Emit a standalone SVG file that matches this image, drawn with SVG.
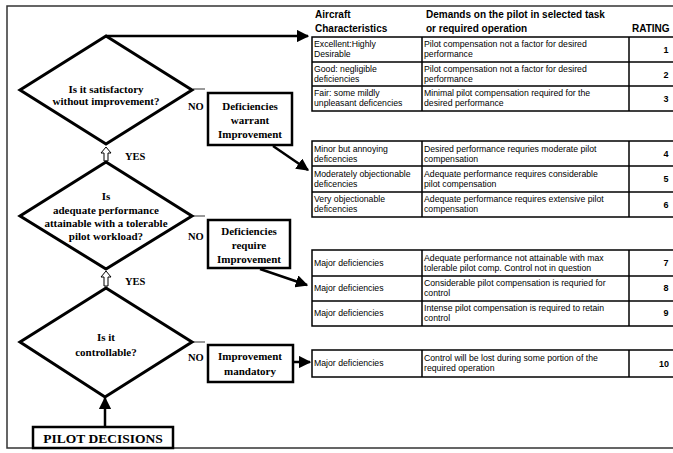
<svg xmlns="http://www.w3.org/2000/svg" width="673" height="453" viewBox="0 0 673 453">
<defs>
<style>
.frame{fill:none;stroke:#333;stroke-width:1.5}
.dia{fill:#fff;stroke:#000;stroke-width:3;stroke-linejoin:miter}
.box{fill:#fff;stroke:#000;stroke-width:2.5}
.ft{font-family:"Liberation Serif","Times New Roman",serif;font-weight:bold;font-size:11px;text-anchor:middle;fill:#000}
.lab{font-family:"Liberation Serif","Times New Roman",serif;font-weight:bold;font-size:10.5px;fill:#000}
.th{font-family:"Liberation Sans",Arial,sans-serif;font-weight:bold;font-size:10px;fill:#000}
.tt{font-family:"Liberation Sans",Arial,sans-serif;font-size:8.7px;fill:#000}
.rt{font-family:"Liberation Sans",Arial,sans-serif;font-weight:bold;font-size:9px;text-anchor:middle;fill:#000}
.cell{fill:none;stroke:#000;stroke-width:1.5}
.con{fill:none;stroke:#000;stroke-width:2.5}
.stub{fill:none;stroke:#555;stroke-width:1.2}
.hol{fill:#fff;stroke:#000;stroke-width:1}
</style>
<marker id="ah" viewBox="0 0 10 10" refX="9" refY="5" markerWidth="5" markerHeight="5" orient="auto" markerUnits="strokeWidth">
<path d="M0,0 L10,5 L0,10 z" fill="#000"/>
</marker>
</defs>

<rect class="frame" x="7" y="6" width="700" height="442"/>

<g id="connectors">
<line class="con" x1="106" y1="36" x2="308" y2="36" marker-end="url(#ah)"/>
<line class="con" x1="273" y1="146" x2="308" y2="170" marker-end="url(#ah)"/>
<line class="con" x1="260" y1="269" x2="307" y2="285" marker-end="url(#ah)"/>
<line class="con" x1="293" y1="362" x2="310" y2="362" marker-end="url(#ah)"/>
<line class="con" x1="105" y1="427" x2="105" y2="398" marker-end="url(#ah)"/>
<line class="stub" x1="193" y1="89" x2="205" y2="89"/>
<line class="stub" x1="193" y1="216" x2="205" y2="216"/>
<line class="stub" x1="193" y1="342" x2="205" y2="342"/>
<path class="hol" d="M106,147 L111,153 L108,153 L108,161 L104,161 L104,153 L101,153 Z"/>
<path class="hol" d="M106,271 L111,277 L108,277 L108,286 L104,286 L104,277 L101,277 Z"/>
<text class="lab" x="125" y="160">YES</text>
<text class="lab" x="125" y="285">YES</text>
<text class="lab" x="188" y="110">NO</text>
<text class="lab" x="188" y="240">NO</text>
<text class="lab" x="188" y="361">NO</text>
</g>

<g id="q1">
<polygon class="dia" points="106,36 192,90 106,144 20,90"/>
<text class="ft" x="106" y="93">Is it satisfactory</text>
<text class="ft" x="106" y="105">without improvement?</text>
</g>

<g id="q2">
<polygon class="dia" points="106,162 192,216 106,269 20,216"/>
<text class="ft" x="106" y="200">Is</text>
<text class="ft" x="106" y="214">adequate performance</text>
<text class="ft" x="106" y="227">attainable with a tolerable</text>
<text class="ft" x="106" y="240">pilot workload?</text>
</g>

<g id="q3">
<polygon class="dia" points="106,288 192,342 105,397 20,342"/>
<text class="ft" x="106" y="341">Is it</text>
<text class="ft" x="106" y="356">controllable?</text>
</g>

<g id="b1">
<rect class="box" x="208" y="93" width="84" height="52"/>
<text class="ft" x="250" y="110">Deficiencies</text>
<text class="ft" x="250" y="124">warrant</text>
<text class="ft" x="250" y="138">Improvement</text>
</g>

<g id="b2">
<rect class="box" x="208" y="220" width="82" height="48"/>
<text class="ft" x="249" y="235">Deficiencies</text>
<text class="ft" x="249" y="249">require</text>
<text class="ft" x="249" y="263">Improvement</text>
</g>

<g id="b3">
<rect class="box" x="208" y="345" width="85" height="37"/>
<text class="ft" x="250" y="360">Improvement</text>
<text class="ft" x="250" y="375">mandatory</text>
</g>

<g id="start">
<rect class="box" x="33" y="427" width="140" height="21"/>
<text class="ft" x="103" y="443" style="font-size:13.5px">PILOT DECISIONS</text>
</g>

<g id="table-header">
<text class="th" x="315" y="18">Aircraft</text>
<text class="th" x="315" y="32">Characteristics</text>
<text class="th" x="426" y="18">Demands on the pilot in selected task</text>
<text class="th" x="426" y="32">or required operation</text>
<text class="th" x="632" y="32">RATING</text>
</g>

<g id="group1">
<rect class="cell" x="312" y="37" width="400" height="74"/>
<line class="cell" x1="312" y1="62" x2="712" y2="62"/>
<line class="cell" x1="312" y1="86" x2="712" y2="86"/>
<line class="cell" x1="422" y1="37" x2="422" y2="111"/>
<line class="cell" x1="629" y1="37" x2="629" y2="111"/>
<text class="tt" x="314" y="47">Excellent:Highly</text>
<text class="tt" x="314" y="57">Desirable</text>
<text class="tt" x="424" y="47">Pilot compensation not a factor for desired</text>
<text class="tt" x="424" y="57">performance</text>
<text class="rt" x="666" y="53">1</text>
<text class="tt" x="314" y="72">Good: negligible</text>
<text class="tt" x="314" y="82">deficiencies</text>
<text class="tt" x="424" y="72">Pilot compensation not a factor for desired</text>
<text class="tt" x="424" y="82">performance</text>
<text class="rt" x="666" y="78">2</text>
<text class="tt" x="314" y="96">Fair: some mildly</text>
<text class="tt" x="314" y="106">unpleasant deficencies</text>
<text class="tt" x="424" y="96">Minimal pilot compensation required for the</text>
<text class="tt" x="424" y="106">desired performance</text>
<text class="rt" x="666" y="102">3</text>
</g>

<g id="group2">
<rect class="cell" x="312" y="141" width="400" height="76"/>
<line class="cell" x1="312" y1="166" x2="712" y2="166"/>
<line class="cell" x1="312" y1="192" x2="712" y2="192"/>
<line class="cell" x1="422" y1="141" x2="422" y2="217"/>
<line class="cell" x1="629" y1="141" x2="629" y2="217"/>
<text class="tt" x="314" y="152">Minor but annoying</text>
<text class="tt" x="314" y="162">deficencies</text>
<text class="tt" x="424" y="152">Desired performance requries moderate pilot</text>
<text class="tt" x="424" y="162">compensation</text>
<text class="rt" x="666" y="157">4</text>
<text class="tt" x="314" y="177">Moderately objectionable</text>
<text class="tt" x="314" y="187">deficencies</text>
<text class="tt" x="424" y="177">Adequate performance requires considerable</text>
<text class="tt" x="424" y="187">pilot compensation</text>
<text class="rt" x="666" y="182">5</text>
<text class="tt" x="314" y="202">Very objectionable</text>
<text class="tt" x="314" y="212">deficencies</text>
<text class="tt" x="424" y="202">Adequate performance requires extensive pilot</text>
<text class="tt" x="424" y="212">compensation</text>
<text class="rt" x="666" y="208">6</text>
</g>

<g id="group3">
<rect class="cell" x="312" y="250" width="400" height="76"/>
<line class="cell" x1="312" y1="276" x2="712" y2="276"/>
<line class="cell" x1="312" y1="301" x2="712" y2="301"/>
<line class="cell" x1="422" y1="250" x2="422" y2="326"/>
<line class="cell" x1="629" y1="250" x2="629" y2="326"/>
<text class="tt" x="314" y="266">Major deficiencies</text>
<text class="tt" x="424" y="261">Adequate performance not attainable with max</text>
<text class="tt" x="424" y="271">tolerable pilot comp. Control not in question</text>
<text class="rt" x="666" y="266">7</text>
<text class="tt" x="314" y="291">Major deficiencies</text>
<text class="tt" x="424" y="286">Considerable pilot compensation is requried for</text>
<text class="tt" x="424" y="296">control</text>
<text class="rt" x="666" y="291">8</text>
<text class="tt" x="314" y="316">Major deficiencies</text>
<text class="tt" x="424" y="311">Intense pilot compensation is required to retain</text>
<text class="tt" x="424" y="321">control</text>
<text class="rt" x="666" y="316">9</text>
</g>

<g id="group4">
<rect class="cell" x="312" y="350" width="400" height="27"/>
<line class="cell" x1="422" y1="350" x2="422" y2="377"/>
<line class="cell" x1="629" y1="350" x2="629" y2="377"/>
<text class="tt" x="314" y="366">Major deficiencies</text>
<text class="tt" x="424" y="361">Control will be lost during some portion of the</text>
<text class="tt" x="424" y="371">required operation</text>
<text class="rt" x="664" y="367">10</text>
</g>
</svg>
